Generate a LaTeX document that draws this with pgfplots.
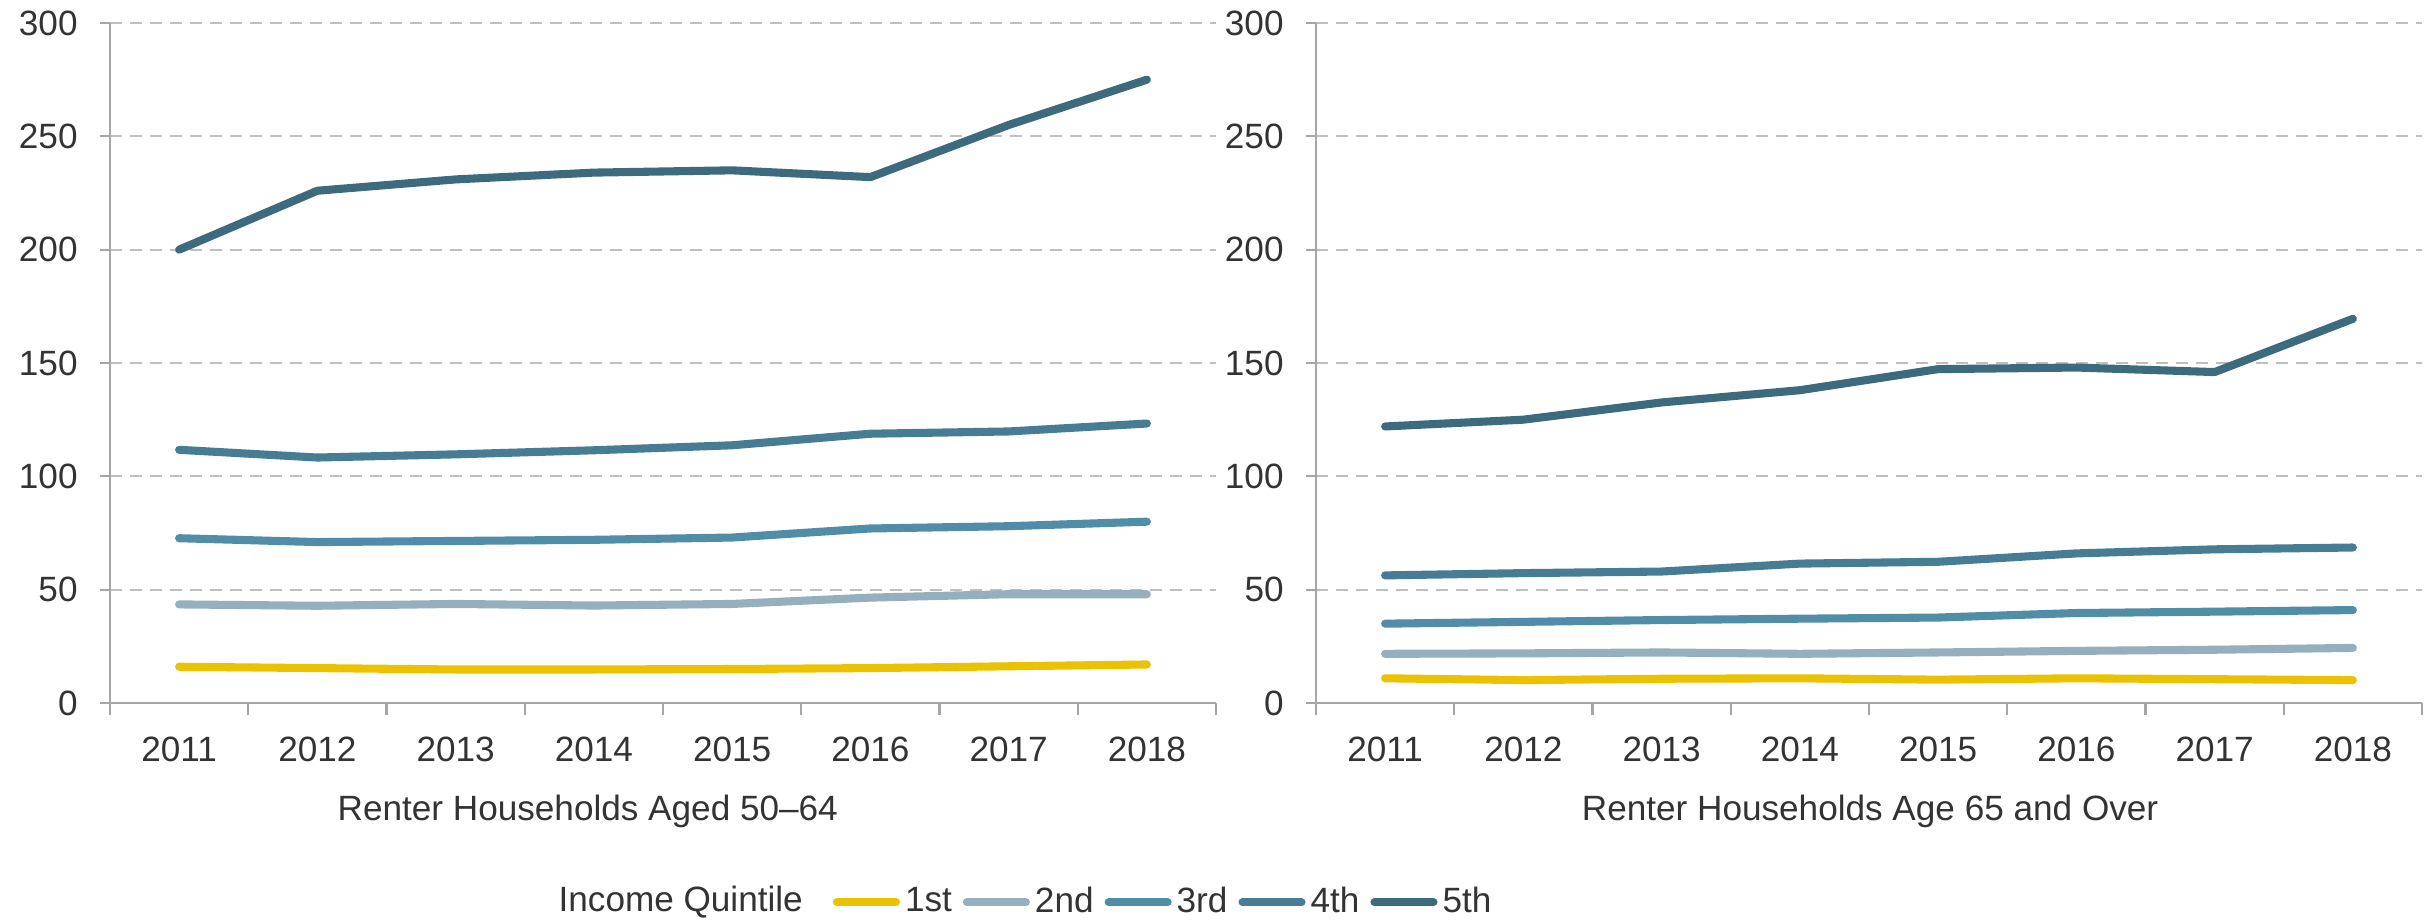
\documentclass[border=0pt]{standalone}
\usepackage{fontspec}
\setmainfont{Liberation Sans}
\usepackage{pgfplots}
\usepackage{pgfplotstable}
\pgfplotsset{compat=1.18}

\definecolor{q1}{HTML}{EBC200}
\definecolor{q2}{HTML}{95AFBD}
\definecolor{q3}{HTML}{528DA8}
\definecolor{q4}{HTML}{477C94}
\definecolor{q5}{HTML}{3D6A7C}
\definecolor{axgray}{HTML}{A6A6A6}
\definecolor{gridgray}{HTML}{BFBFBF}
\definecolor{txt}{HTML}{333333}

% renter households, aged 50-64
\pgfplotstableread{
x  q1   q2   q3   q4    q5
0  16.0 43.5 72.7 111.7 200
1  15.4 42.9 71.0 108.3 226
2  14.8 43.7 71.5 109.7 231
3  14.8 43.0 72.0 111.5 234
4  15.0 43.7 73.0 113.7 235
5  15.4 46.5 77.0 118.8 232
6  16.2 48.0 78.0 119.8 255
7  17.0 48.0 80.0 123.3 275
}\agedfifty

% renter households, age 65 and over
\pgfplotstableread{
x  q1   q2   q3   q4   q5
0  10.9 21.7 35.0 56.3 122.0
1  10.1 21.9 35.8 57.3 125.0
2  10.7 22.3 36.6 58.0 132.6
3  10.9 21.7 37.2 61.5 138.0
4  10.3 22.3 37.7 62.3 147.3
5  10.9 23.0 39.7 66.0 148.0
6  10.5 23.5 40.3 67.8 146.0
7  10.1 24.3 41.0 68.6 169.5
}\agedsixtyfive

\pgfplotsset{
  panel/.style={
    scale only axis,
    width=110.6mm, height=68mm,
    xmin=-0.5, xmax=7.5, ymin=0, ymax=300,
    axis x line=bottom, axis y line=left,
    axis line style={axgray, line width=0.6pt, -},
    xtick={0,...,7},
    xticklabels={2011,2012,2013,2014,2015,2016,2017,2018},
    minor xtick={-0.5,0.5,...,7.5},
    ytick={0,50,...,300},
    tick align=outside,
    major tick length=1mm, minor tick length=1.2mm,
    major x tick style={draw=none},
    tick style={axgray, line width=0.6pt},
    ymajorgrids,
    grid style={gridgray, line width=0.6pt, dash pattern=on 1.2mm off 0.8mm},
    ticklabel style={font=\fontsize{10}{12}\selectfont, text=txt},
    /pgf/number format/assume math mode=true,
    yticklabel style={xshift=-1mm},
    xticklabel style={yshift=-1.2mm},
    label style={font=\fontsize{10}{12}\selectfont, text=txt},
    every axis plot/.append style={line width=2.3pt, line cap=round, line join=round},
    legend image code/.code={\draw[line width=2.3pt, line cap=round] (0mm,0mm) -- (5.9mm,0mm);},
    clip=false,
  }
}

\begin{document}
\begin{tikzpicture}
\path[use as bounding box] (0,0) rectangle (243.3mm,92mm);

\begin{axis}[panel,
  at={(11mm,21.7mm)}, anchor=south west,
  xlabel={Renter Households Aged 50--64},
  xlabel style={at={(axis description cs:0.432,-0.160)}, anchor=center},
  legend columns=5,
  legend style={at={(axis description cs:0.653,-0.293)}, anchor=west,
    draw=none, fill=none, inner sep=0pt,
    font=\fontsize{10}{12}\selectfont, text=txt,
    nodes={inner xsep=0.5mm},
    /tikz/every even column/.append style={column sep=0.6mm}},
]
\addplot[q1] table[x=x, y=q1] {\agedfifty};
\addplot[q2] table[x=x, y=q2] {\agedfifty};
\addplot[q3] table[x=x, y=q3] {\agedfifty};
\addplot[q4] table[x=x, y=q4] {\agedfifty};
\addplot[q5] table[x=x, y=q5] {\agedfifty};
\legend{1st,2nd,3rd,4th,5th}
\node[anchor=west, text=txt, font=\fontsize{10}{12}\selectfont, inner sep=0pt]
  at (axis description cs:0.405,-0.293) {Income Quintile};
\end{axis}

\begin{axis}[panel,
  at={(131.6mm,21.7mm)}, anchor=south west,
  xlabel={Renter Households Age 65 and Over},
  xlabel style={at={(axis description cs:0.501,-0.160)}, anchor=center},
]
\addplot[q1] table[x=x, y=q1] {\agedsixtyfive};
\addplot[q2] table[x=x, y=q2] {\agedsixtyfive};
\addplot[q3] table[x=x, y=q3] {\agedsixtyfive};
\addplot[q4] table[x=x, y=q4] {\agedsixtyfive};
\addplot[q5] table[x=x, y=q5] {\agedsixtyfive};
\end{axis}
\end{tikzpicture}
\end{document}
